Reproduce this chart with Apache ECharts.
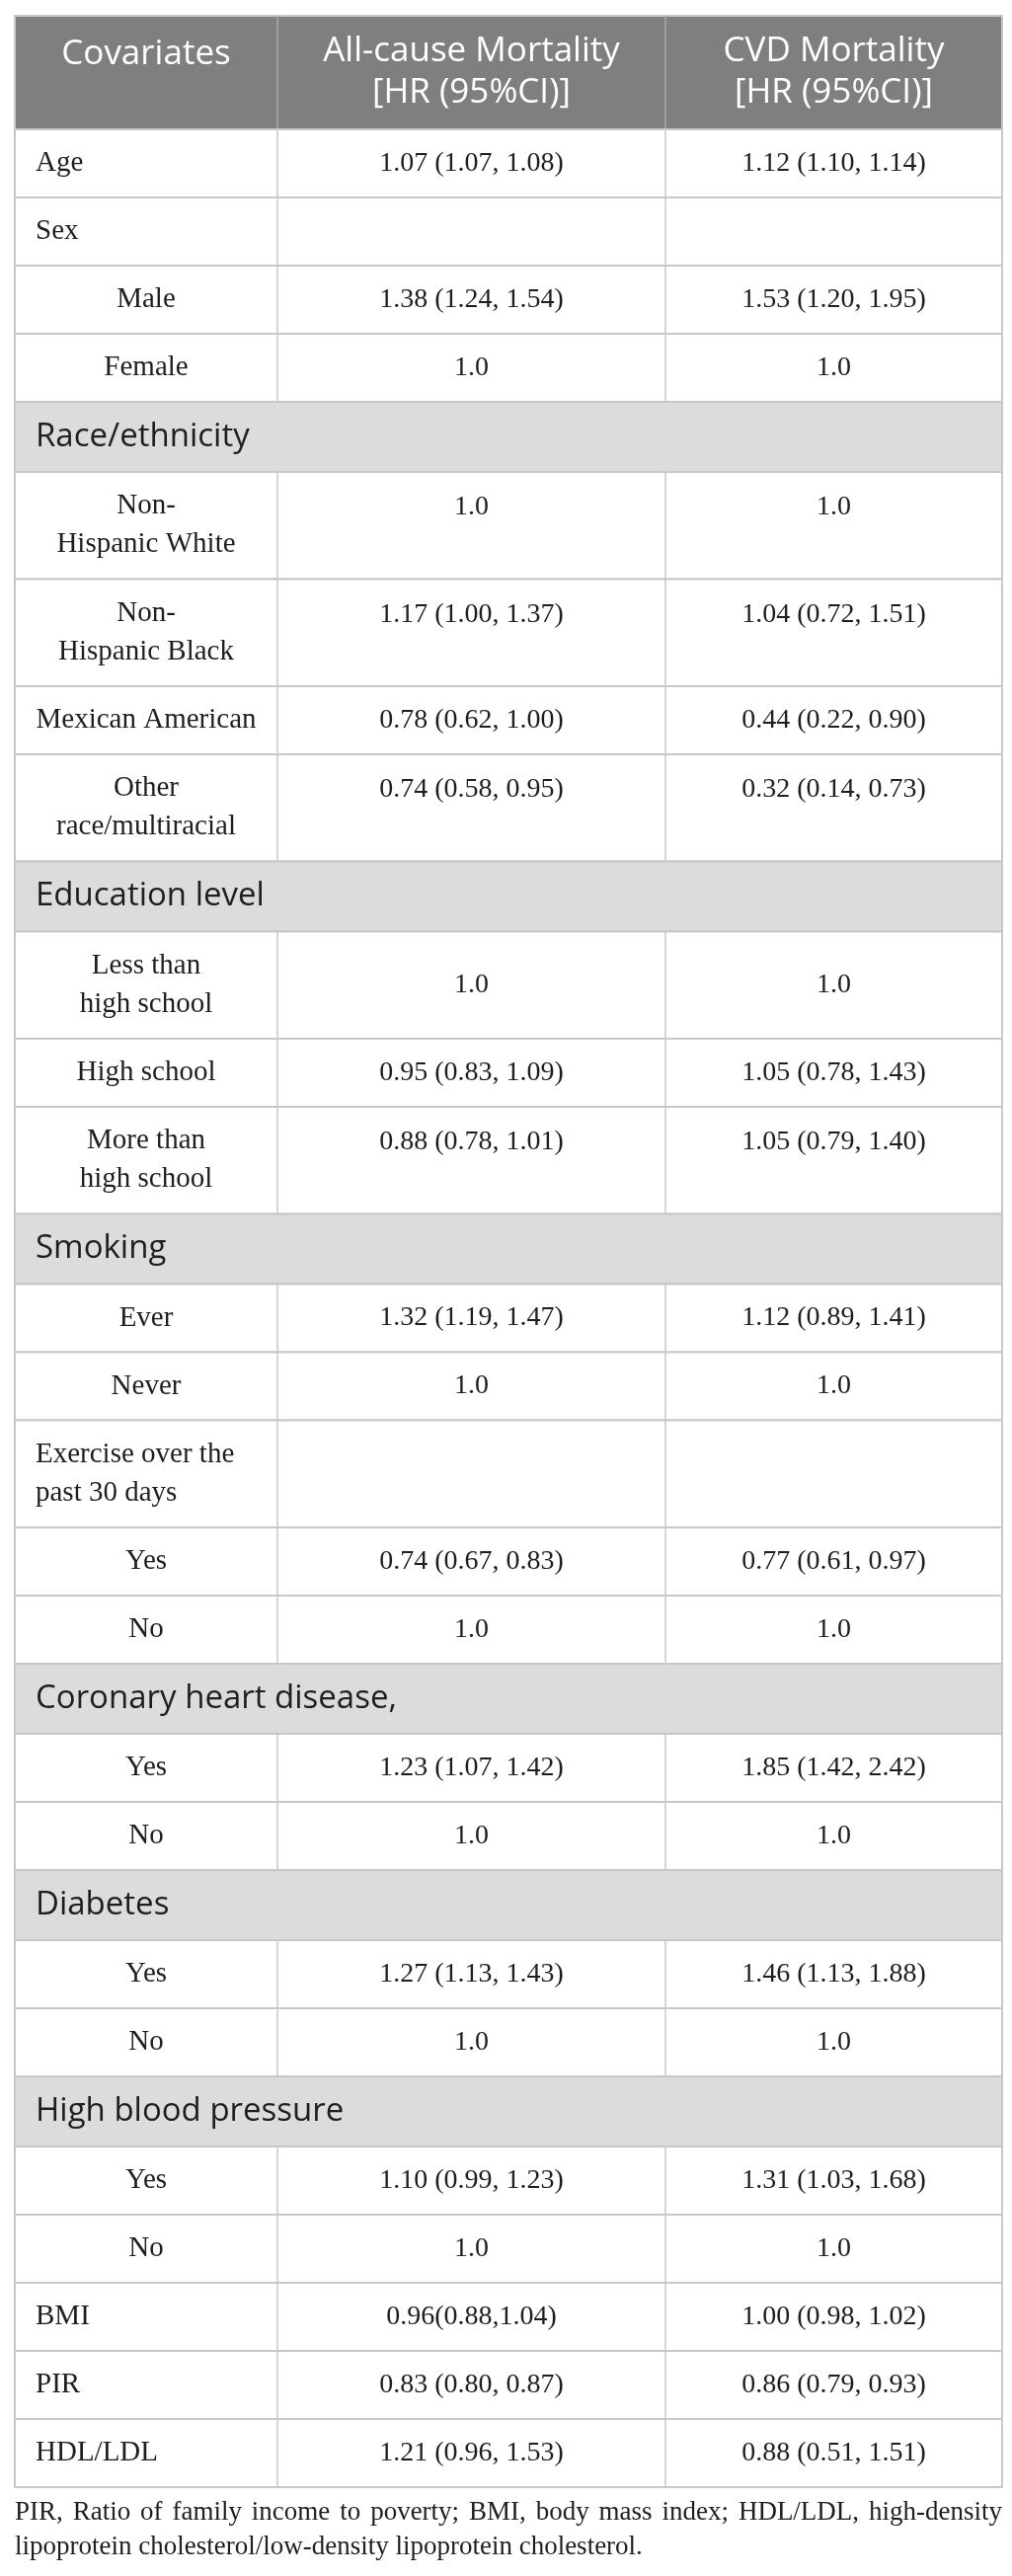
<!DOCTYPE html>
<html>
<head>
<meta charset="utf-8">
<script src="https://cdn.jsdelivr.net/npm/echarts@6/dist/echarts.min.js"></script>
<style>
html, body { margin: 0; padding: 0; background: #fff; }
#hr_table { width: 1025px; height: 2609px; }
</style>
</head>
<body>
<div id="hr_table"></div>
<script>
var headers = ['Covariates', 'All-cause Mortality\n[HR (95%CI)]', 'CVD Mortality\n[HR (95%CI)]'];

var covariates = [
	'Age', 'Sex', 'Male', 'Female',
	'Race/ethnicity', 'Non-\nHispanic White', 'Non-\nHispanic Black', 'Mexican American', 'Other\nrace/multiracial',
	'Education level', 'Less than\nhigh school', 'High school', 'More than\nhigh school',
	'Smoking', 'Ever', 'Never', 'Exercise over the\npast 30 days', 'Yes', 'No',
	'Coronary heart disease,', 'Yes', 'No',
	'Diabetes', 'Yes', 'No',
	'High blood pressure', 'Yes', 'No',
	'BMI', 'PIR', 'HDL/LDL'
];

// 0 = covariate, 1 = category of a covariate, 2 = group heading
var levels = [
	0, 0, 1, 1,
	2, 1, 1, 1, 1,
	2, 1, 1, 1,
	2, 1, 1, 0, 1, 1,
	2, 1, 1,
	2, 1, 1,
	2, 1, 1,
	0, 0, 0
];

var allCause = [
	'1.07 (1.07, 1.08)', '', '1.38 (1.24, 1.54)', '1.0',
	'', '1.0', '1.17 (1.00, 1.37)', '0.78 (0.62, 1.00)', '0.74 (0.58, 0.95)',
	'', '1.0', '0.95 (0.83, 1.09)', '0.88 (0.78, 1.01)',
	'', '1.32 (1.19, 1.47)', '1.0', '', '0.74 (0.67, 0.83)', '1.0',
	'', '1.23 (1.07, 1.42)', '1.0',
	'', '1.27 (1.13, 1.43)', '1.0',
	'', '1.10 (0.99, 1.23)', '1.0',
	'0.96(0.88,1.04)', '0.83 (0.80, 0.87)', '1.21 (0.96, 1.53)'
];

var cvdMortality = [
	'1.12 (1.10, 1.14)', '', '1.53 (1.20, 1.95)', '1.0',
	'', '1.0', '1.04 (0.72, 1.51)', '0.44 (0.22, 0.90)', '0.32 (0.14, 0.73)',
	'', '1.0', '1.05 (0.78, 1.43)', '1.05 (0.79, 1.40)',
	'', '1.12 (0.89, 1.41)', '1.0', '', '0.77 (0.61, 0.97)', '1.0',
	'', '1.85 (1.42, 2.42)', '1.0',
	'', '1.46 (1.13, 1.88)', '1.0',
	'', '1.31 (1.03, 1.68)', '1.0',
	'1.00 (0.98, 1.02)', '0.86 (0.79, 0.93)', '0.88 (0.51, 1.51)'
];

var footnote = [
	'PIR, Ratio of family income to poverty; BMI, body mass index; HDL/LDL, high-density',
	'lipoprotein cholesterol/low-density lipoprotein cholesterol.'
];

// layout
var colEdges = [0, 266, 659, 1000];
var sansFont = '"Open Sans", "Noto Sans", sans-serif';
var serifFont = '"Liberation Serif", "DejaVu Serif", serif';

function rowHeight(i) {
	if (i < 0) return 115;
	if (levels[i] == 2) return 71;
	return covariates[i].indexOf('\n') >= 0 ? 108.5 : 69;
}

var rows = [];
var acc = 0;
for (var i = -1; i < covariates.length; i++) {
	var h = rowHeight(i);
	rows.push([acc, acc + h, i]);
	acc += h;
}
var total = acc;

function renderRow(params, api) {
	var idx = api.value(2);
	var top = api.coord([0, api.value(0)])[1];
	var bottom = api.coord([0, api.value(1)])[1];
	var xs = colEdges.map(function (e) { return api.coord([e, 0])[0]; });
	var mid = (top + bottom) / 2;
	var centers = [(xs[0] + xs[1]) / 2, (xs[1] + xs[2]) / 2, (xs[2] + xs[3]) / 2];
	var kids = [];

	if (idx < 0) {
		kids.push({ type: 'rect', shape: { x: xs[0], y: top, width: xs[3] - xs[0], height: bottom - top },
			style: { fill: '#7f7f7f', stroke: '#c8c8c8', lineWidth: 2 } });
		[1, 2].forEach(function (k) {
			kids.push({ type: 'line', shape: { x1: xs[k], y1: top, x2: xs[k], y2: bottom },
				style: { stroke: '#a8a8a8', lineWidth: 1.5 } });
		});
		headers.forEach(function (t, k) {
			kids.push({ type: 'text', style: { text: t, x: centers[k], y: k == 0 ? top + 39 : mid,
				align: 'center', verticalAlign: 'middle', fill: '#ffffff',
				fontSize: 35, fontFamily: sansFont, lineHeight: 42 } });
		});
		return { type: 'group', children: kids };
	}

	var lvl = levels[idx];
	var label = covariates[idx];

	if (lvl == 2) {
		kids.push({ type: 'rect', shape: { x: xs[0], y: top, width: xs[3] - xs[0], height: bottom - top },
			style: { fill: '#dcdcdc', stroke: '#c8c8c8', lineWidth: 2 } });
		kids.push({ type: 'text', style: { text: label, x: xs[0] + 21, y: mid, align: 'left',
			verticalAlign: 'middle', fill: '#1e1e1e', fontSize: 33, fontFamily: sansFont } });
		return { type: 'group', children: kids };
	}

	kids.push({ type: 'rect', shape: { x: xs[0], y: top, width: xs[3] - xs[0], height: bottom - top },
		style: { fill: '#ffffff', stroke: '#c8c8c8', lineWidth: 2 } });
	[1, 2].forEach(function (k) {
		kids.push({ type: 'line', shape: { x1: xs[k], y1: top, x2: xs[k], y2: bottom },
			style: { stroke: '#c8c8c8', lineWidth: 1.5 } });
	});
	kids.push({ type: 'text', style: { text: label, x: lvl == 1 ? centers[0] : xs[0] + 21, y: mid,
		align: lvl == 1 ? 'center' : 'left', verticalAlign: 'middle', fill: '#1e1e1e',
		fontSize: 29, fontFamily: serifFont, lineHeight: 39 } });

	var twoLine = label.indexOf('\n') >= 0 && label.indexOf('Less than') < 0;
	var vy = twoLine ? top + 36 : mid;
	[allCause[idx], cvdMortality[idx]].forEach(function (v, k) {
		if (!v) return;
		kids.push({ type: 'text', style: { text: v, x: centers[k + 1], y: vy, align: 'center',
			verticalAlign: 'middle', fill: '#1e1e1e', fontSize: 28, fontFamily: serifFont } });
	});
	return { type: 'group', children: kids };
}

function justified(text, left, width, y, font, stretch) {
	var ctx = document.createElement('canvas').getContext('2d');
	ctx.font = font;
	var words = text.split(' ');
	var used = 0;
	words.forEach(function (w) { used += ctx.measureText(w).width; });
	var gap = stretch ? (width - used) / (words.length - 1) : ctx.measureText(' ').width;
	var x = left;
	var out = [];
	words.forEach(function (w) {
		out.push({ type: 'text', x: x, y: y, style: { text: w, font: font, fill: '#1e1e1e', verticalAlign: 'middle' } });
		x += ctx.measureText(w).width + gap;
	});
	return out;
}

var chart = echarts.init(document.getElementById('hr_table'));
var noteFont = '27px "Liberation Serif", serif';
chart.setOption({
	animation: false,
	grid: { left: 15, right: 10, top: 16, height: total },
	xAxis: { type: 'value', min: 0, max: 1000, show: false },
	yAxis: { type: 'value', min: 0, max: total, inverse: true, show: false },
	series: [{
		type: 'custom',
		clip: false,
		renderItem: renderRow,
		data: rows
	}],
	graphic: justified(footnote[0], 15, 1000, 2545, noteFont, true)
		.concat(justified(footnote[1], 15, 1000, 2580, noteFont, false))
});
</script>
</body>
</html>
